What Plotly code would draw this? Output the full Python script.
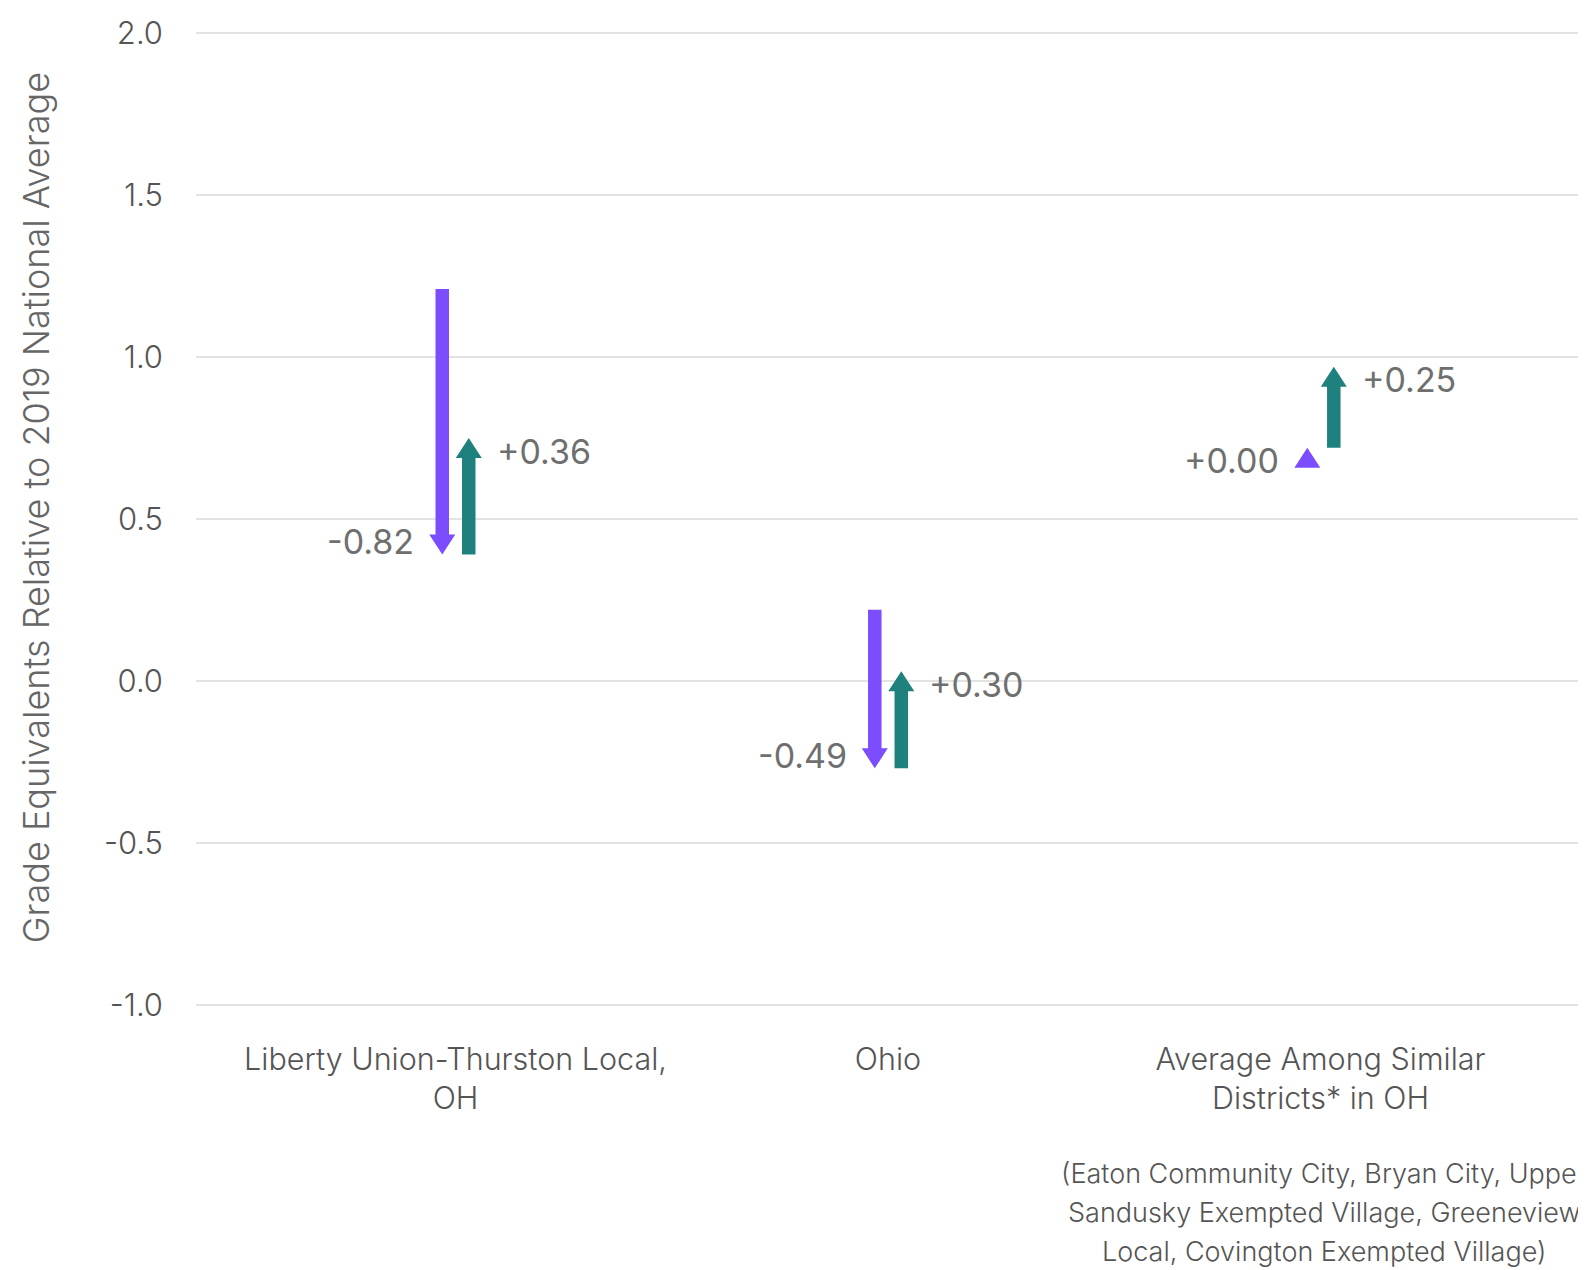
import plotly.graph_objects as go

# ---------------- data ----------------
categories = ["Liberty Union-Thurston Local,<br>OH", "Ohio", "Average Among Similar<br>Districts* in OH"]
score_2019 = [1.21, 0.22, 0.72]      # starting level (relative to 2019 national average)
decline = [-0.82, -0.49, 0.00]       # change 2019 -> 2022 (purple)
recovery = [0.36, 0.30, 0.25]        # change 2022 -> 2024 (teal)
y_ticks = [-1.0, -0.5, 0.0, 0.5, 1.0, 1.5, 2.0]
y_title = "Grade Equivalents Relative to 2019 National Average"
footnote_lines = ["(Eaton Community City, Bryan City, Upper",
                  "Sandusky Exempted Village, Greeneview",
                  "Local, Covington Exempted Village)"]

# ---------------- style ----------------
PURPLE = "#7C4DFF"
TEAL = "#1E817E"
TEXT = "#555555"
VALUE_TEXT = "#6F6F6F"
FONT = "Inter"
LIGHT = 300
W, H = 1586, 1270
M = dict(l=188, r=4, t=22, b=270)
X_RANGE = [-0.6, 2.623]
Y_RANGE = [-1.01, 2.01]
PW = W - M["l"] - M["r"]
PH = H - M["t"] - M["b"]
px_x = PW / (X_RANGE[1] - X_RANGE[0])
px_y = PH / (Y_RANGE[1] - Y_RANGE[0])
OFFSET = 13.25 / px_x
SHAFT = 6.75 / px_x
HEAD_W = 13 / px_x
HEAD_H = 20 / px_y


def paper_x(px):
    return (px - M["l"]) / PW


def paper_y(py):
    return (H - M["b"] - py) / PH


def arrow_path(x, s, e, up):
    d = 1 if up else -1
    b = e - d * HEAD_H
    if (b - s) * d > 0:
        xs = [x - SHAFT, x + SHAFT, x + SHAFT, x + HEAD_W, x, x - HEAD_W, x - SHAFT, x - SHAFT]
        ys = [s, s, b, b, e, b, b, s]
    else:
        xs = [x - HEAD_W, x, x + HEAD_W, x - HEAD_W]
        ys = [b, e, b, b]
    return xs + [None], ys + [None]


fig = go.Figure()
annotations = []

mid = [s + d for s, d in zip(score_2019, decline)]
series = [("2019-2022", PURPLE, score_2019, decline, -1),
          ("2022-2024", TEAL, mid, recovery, +1)]

for name, color, starts, changes, side in series:
    xs_all, ys_all = [], []
    for i, (s, c) in enumerate(zip(starts, changes)):
        x = i + side * OFFSET
        e = s + c
        up = c >= 0
        xs, ys = arrow_path(x, s, e, up)
        xs_all += xs
        ys_all += ys
        annotations.append(dict(
            x=x, y=e, xref="x", yref="y", text=f"{c:+.2f}", showarrow=False,
            xanchor="right" if side < 0 else "left", yanchor="middle",
            xshift=-26 if side < 0 else 26, yshift=-13 if up else 13,
            font=dict(family=FONT, size=34, color=VALUE_TEXT)))
    fig.add_trace(go.Scatter(x=xs_all, y=ys_all, mode="lines", fill="toself",
                             fillcolor=color, line=dict(width=0, color=color),
                             name=name, hoverinfo="skip", showlegend=False))

annotations.append(dict(
    x=paper_x(28), y=0.511, xref="paper", yref="paper",
    text=y_title, textangle=-90, showarrow=False, xanchor="center", yanchor="middle",
    font=dict(family=FONT, size=36, color="#666666", weight=LIGHT)))
for k, line in enumerate(footnote_lines):
    annotations.append(dict(
        x=paper_x(1316), y=paper_y(1165 + 39 * k), xref="paper", yref="paper",
        text=line, showarrow=False, xanchor="center", yanchor="middle",
        font=dict(family=FONT, size=27, color=TEXT, weight=LIGHT)))

fig.update_layout(
    width=W, height=H, margin=M, plot_bgcolor="white", paper_bgcolor="white",
    showlegend=False, annotations=annotations,
    xaxis=dict(range=X_RANGE, tickvals=[0, 1, 2], ticktext=categories,
               showgrid=False, zeroline=False, showline=False, ticks="",
               ticklabelstandoff=30,
               tickfont=dict(family=FONT, size=30.5, color=TEXT, weight=LIGHT)),
    yaxis=dict(range=Y_RANGE, tickvals=y_ticks, ticktext=[f"{v:.1f}" for v in y_ticks],
               showgrid=True, gridcolor="#E3E3E3", gridwidth=2, zeroline=False,
               showline=False, ticks="", ticklabelstandoff=32,
               tickfont=dict(family=FONT, size=31, color=TEXT, weight=LIGHT)),
)

fig.write_html("out.html")
